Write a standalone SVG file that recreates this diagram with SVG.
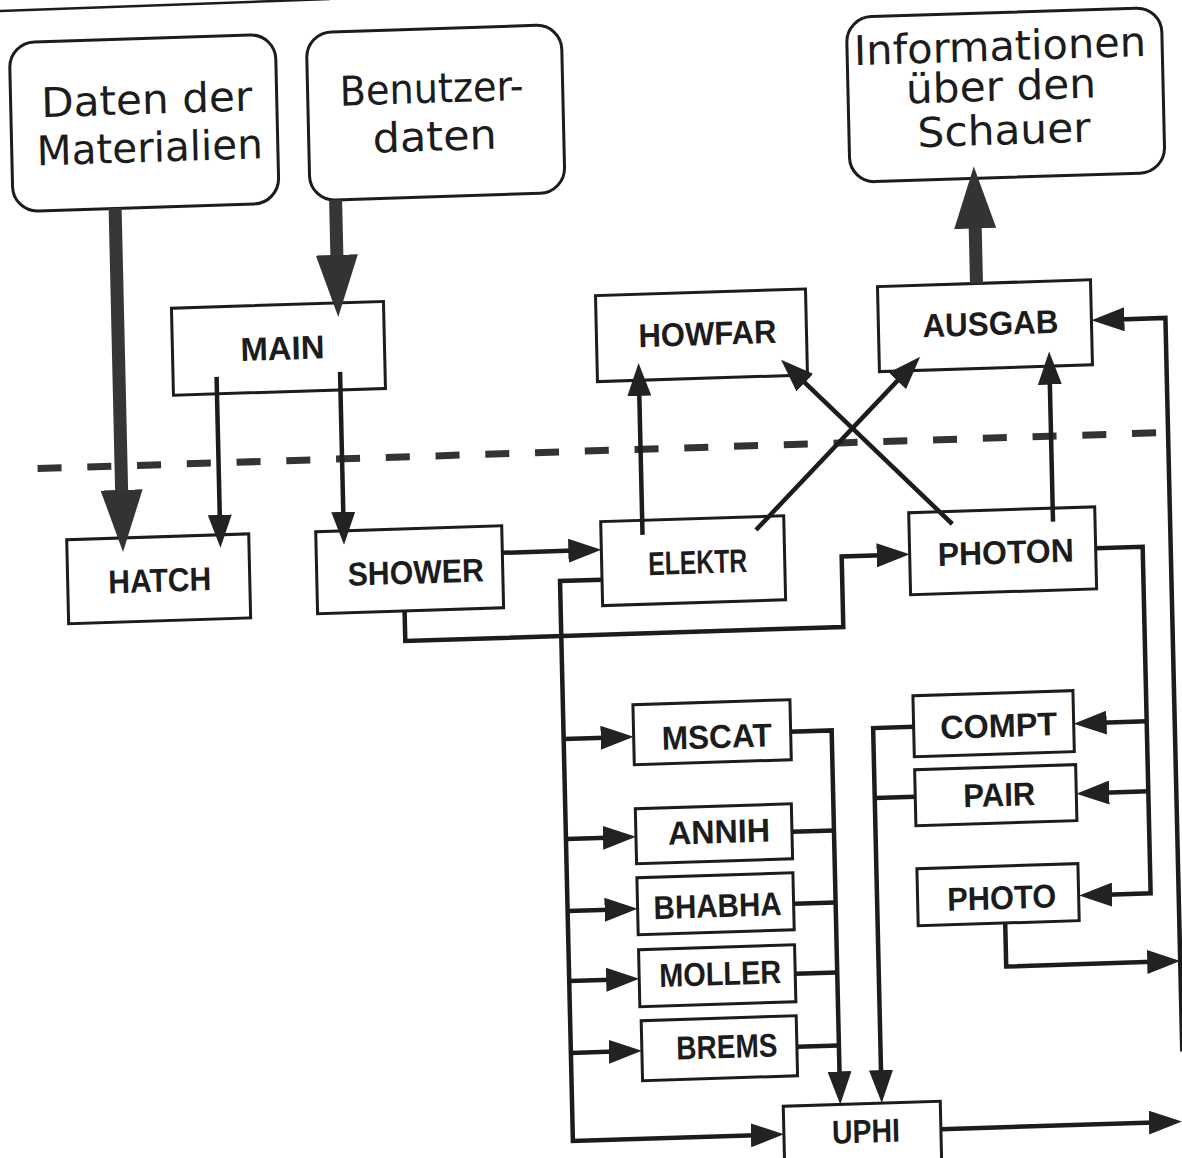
<svg xmlns="http://www.w3.org/2000/svg" width="1182" height="1158" viewBox="0 0 1182 1158">
  <defs>
    <style>
      .box { fill: #fff; stroke: #1c1c1c; stroke-width: 3; }
      .big { font-family: "DejaVu Sans", "Liberation Sans", sans-serif; font-size: 41px; fill: #1c1c1c; text-anchor: middle; }
      .lbl { font-family: "Liberation Sans", Arial, sans-serif; font-weight: bold; font-size: 33px; fill: #1c1c1c; text-anchor: middle; }
      .ln { fill: none; stroke: #1c1c1c; stroke-width: 4.5; stroke-linejoin: miter; }
      .thick { fill: none; stroke: #363636; stroke-width: 13; }
      .dash { fill: none; stroke: #333; stroke-width: 7; stroke-dasharray: 24 25.75; }
    </style>
    <!-- thin arrowhead, tip 20 units beyond the path end -->
    <marker id="ah" markerUnits="userSpaceOnUse" markerWidth="34" markerHeight="24" viewBox="0 0 34 24" refX="13" refY="12" orient="auto">
      <path d="M0,0 L33,12 L0,24 z" fill="#222"/>
    </marker>
    <!-- heavy arrowhead for data flows, tip 40 units beyond the path end -->
    <marker id="ahb" markerUnits="userSpaceOnUse" markerWidth="62" markerHeight="42" viewBox="0 0 62 42" refX="22" refY="21" orient="auto">
      <path d="M0,0 L62,21 L0,42 z" fill="#333"/>
    </marker>
  </defs>

  <rect width="1182" height="1158" fill="#fff"/>

  <!-- page header rule -->
  <line x1="0" y1="11" x2="330" y2="-1" stroke="#1c1c1c" stroke-width="2.5"/>

  <!-- whole sheet is slightly skewed -->
  <g transform="matrix(1 -0.032 0.023 1 -13.32 18.91)">

    <g id="nodes">
      <g id="daten-materialien">
        <rect class="box" x="22" y="24.5" width="266" height="169" rx="25"/>
        <text class="big" x="158" y="100" textLength="211" lengthAdjust="spacingAndGlyphs">Daten der</text>
        <text class="big" x="160" y="148" textLength="226" lengthAdjust="spacingAndGlyphs">Materialien</text>
      </g>
      <g id="benutzerdaten">
        <rect class="box" x="319" y="24" width="255" height="168" rx="25"/>
        <text class="big" x="443" y="98" textLength="184" lengthAdjust="spacingAndGlyphs">Benutzer-</text>
        <text class="big" x="445" y="146" textLength="124" lengthAdjust="spacingAndGlyphs">daten</text>
      </g>
      <g id="informationen">
        <rect class="box" x="859" y="26" width="315" height="165" rx="25"/>
        <text class="big" x="1012" y="74" textLength="292" lengthAdjust="spacingAndGlyphs">Informationen</text>
        <text class="big" x="1012" y="114" textLength="190" lengthAdjust="spacingAndGlyphs">über den</text>
        <text class="big" x="1014" y="158" textLength="173" lengthAdjust="spacingAndGlyphs">Schauer</text>
      </g>

      <g id="main">
        <rect class="box" x="178" y="295" width="212" height="87"/>
        <text class="lbl" x="288" y="350" textLength="84" lengthAdjust="spacingAndGlyphs">MAIN</text>
      </g>
      <g id="howfar">
        <rect class="box" x="602" y="296" width="210" height="86"/>
        <text class="lbl" x="713" y="349" textLength="138" lengthAdjust="spacingAndGlyphs">HOWFAR</text>
      </g>
      <g id="ausgab">
        <rect class="box" x="884" y="296" width="213" height="85"/>
        <text class="lbl" x="996" y="348" textLength="136" lengthAdjust="spacingAndGlyphs">AUSGAB</text>
      </g>

      <g id="hatch">
        <rect class="box" x="68" y="523" width="182" height="84"/>
        <text class="lbl" x="160" y="578" textLength="103" lengthAdjust="spacingAndGlyphs">HATCH</text>
      </g>
      <g id="shower">
        <rect class="box" x="317" y="523" width="186" height="82"/>
        <text class="lbl" x="416" y="578" textLength="136" lengthAdjust="spacingAndGlyphs">SHOWER</text>
      </g>
      <g id="elektr">
        <rect class="box" x="602" y="522" width="183" height="84"/>
        <text class="lbl" x="698" y="577" textLength="99" lengthAdjust="spacingAndGlyphs">ELEKTR</text>
      </g>
      <g id="photon">
        <rect class="box" x="910" y="523" width="186" height="82"/>
        <text class="lbl" x="1006" y="577" textLength="136" lengthAdjust="spacingAndGlyphs">PHOTON</text>
      </g>

      <g id="mscat">
        <rect class="box" x="630" y="706" width="157" height="60"/>
        <text class="lbl" x="713" y="752" textLength="110" lengthAdjust="spacingAndGlyphs">MSCAT</text>
      </g>
      <g id="annih">
        <rect class="box" x="630" y="810" width="156" height="55"/>
        <text class="lbl" x="713" y="847" textLength="102" lengthAdjust="spacingAndGlyphs">ANNIH</text>
      </g>
      <g id="bhabha">
        <rect class="box" x="630" y="879" width="156" height="57"/>
        <text class="lbl" x="710" y="921" textLength="128" lengthAdjust="spacingAndGlyphs">BHABHA</text>
      </g>
      <g id="moller">
        <rect class="box" x="630" y="951" width="156" height="57"/>
        <text class="lbl" x="711" y="989" textLength="122" lengthAdjust="spacingAndGlyphs">MOLLER</text>
      </g>
      <g id="brems">
        <rect class="box" x="631" y="1022" width="155" height="60"/>
        <text class="lbl" x="716" y="1062" textLength="101" lengthAdjust="spacingAndGlyphs">BREMS</text>
      </g>
      <g id="uphi">
        <rect class="box" x="771" y="1112" width="157" height="70"/>
        <text class="lbl" x="853" y="1151" textLength="68" lengthAdjust="spacingAndGlyphs">UPHI</text>
      </g>

      <g id="compt">
        <rect class="box" x="910" y="706" width="160" height="61"/>
        <text class="lbl" x="995" y="750" textLength="117" lengthAdjust="spacingAndGlyphs">COMPT</text>
      </g>
      <g id="pair">
        <rect class="box" x="910" y="780" width="161" height="56"/>
        <text class="lbl" x="994" y="819" textLength="72" lengthAdjust="spacingAndGlyphs">PAIR</text>
      </g>
      <g id="photo">
        <rect class="box" x="910" y="879" width="161" height="57"/>
        <text class="lbl" x="994" y="922" textLength="109" lengthAdjust="spacingAndGlyphs">PHOTO</text>
      </g>
    </g>

    <!-- boundary between user routines and the package -->
    <line id="divider" class="dash" x1="40.5" y1="451" x2="1161.5" y2="451"/>

    <g id="connectors">
      <!-- heavy data flows -->
      <path class="thick" d="M124 193 V497" marker-end="url(#ahb)"/>
      <path class="thick" d="M344.5 192 V269" marker-end="url(#ahb)"/>
      <path class="thick" d="M983 296 V219" marker-end="url(#ahb)"/>

      <!-- MAIN calls -->
      <path class="ln" d="M221.5 365 V516" marker-end="url(#ah)"/>
      <path class="ln" d="M345 364 V517" marker-end="url(#ah)"/>

      <!-- SHOWER calls -->
      <path class="ln" d="M503 550 H582" marker-end="url(#ah)"/>
      <path class="ln" d="M404 605 V635 H842 V564.5 H890" marker-end="url(#ah)"/>

      <!-- geometry and output calls -->
      <path class="ln" d="M643.5 536.5 V384.6" marker-end="url(#ah)"/>
      <path class="ln" d="M1054 536.5 V386.4" marker-end="url(#ah)"/>
      <path class="ln" d="M757 535.3 L910.9 381.6" marker-end="url(#ah)"/>
      <path class="ln" d="M953.3 535.6 L800 380.3" marker-end="url(#ah)"/>

      <!-- ELEKTR bus to the electron processes and UPHI -->
      <path class="ln" d="M602 580 H560 V1140 H751" marker-end="url(#ah)"/>
      <path class="ln" d="M560 738 H610" marker-end="url(#ah)"/>
      <path class="ln" d="M560 838 H610" marker-end="url(#ah)"/>
      <path class="ln" d="M560 910 H610" marker-end="url(#ah)"/>
      <path class="ln" d="M560 980 H610" marker-end="url(#ah)"/>
      <path class="ln" d="M560 1052 H611" marker-end="url(#ah)"/>

      <!-- electron processes to UPHI -->
      <path class="ln" d="M786 738 H828 V1092" marker-end="url(#ah)"/>
      <path class="ln" d="M786 838 H828"/>
      <path class="ln" d="M786 910 H828"/>
      <path class="ln" d="M786 980 H828"/>
      <path class="ln" d="M786 1053 H828"/>

      <!-- COMPT and PAIR to UPHI -->
      <path class="ln" d="M910 737 H869.5 V1092" marker-end="url(#ah)"/>
      <path class="ln" d="M910 807 H869.5"/>

      <!-- PHOTON bus to the photon processes -->
      <path class="ln" d="M1096 564.5 H1143 V911 H1091.5" marker-end="url(#ah)"/>
      <path class="ln" d="M1143 739 H1090" marker-end="url(#ah)"/>
      <path class="ln" d="M1143 809 H1091" marker-end="url(#ah)"/>

      <!-- return paths to AUSGAB -->
      <path class="ln" d="M997 936 V979.5 H1151" marker-end="url(#ah)"/>
      <path class="ln" d="M1171 1070 V336.5 H1117" marker-end="url(#ah)"/>
      <path class="ln" d="M928 1140 H1149" marker-end="url(#ah)"/>
    </g>
  </g>
</svg>
